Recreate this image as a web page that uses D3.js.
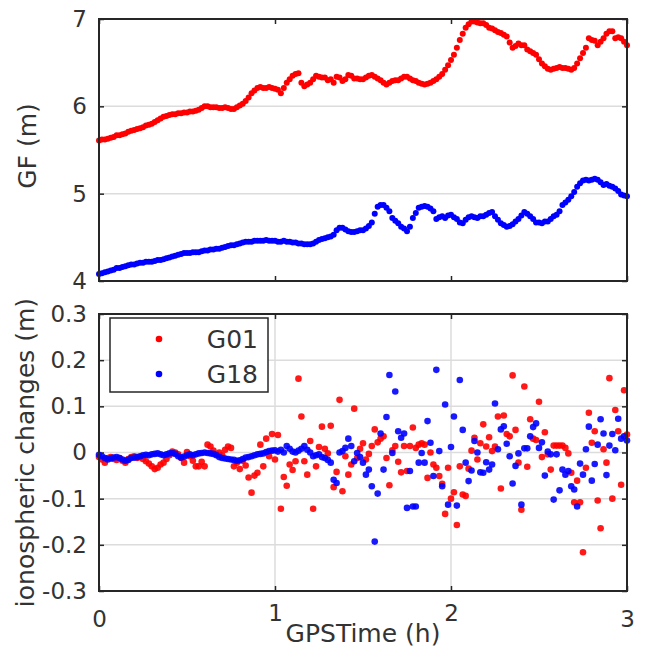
<!DOCTYPE html>
<html>
<head>
<meta charset="utf-8">
<script src="https://cdn.jsdelivr.net/npm/d3@7"></script>
<style>
  html, body { margin: 0; padding: 0; background: #fff; }
  svg { display: block; }
</style>
</head>
<body>
<script>
// sampling: one epoch per minute, 0..3 h
const stepHours = 1 / 60;
const hourTicks = [0, 1, 2, 3];
const gfTicks = [4, 5, 6, 7];
const ionoTicks = [-0.3, -0.2, -0.1, 0, 0.1, 0.2, 0.3];
const satNames = ["G01", "G18"];

// GF combination (m)
const gfG01 = [
  5.61, 5.62, 5.62, 5.63, 5.64, 5.65, 5.67, 5.67, 5.68, 5.69,
  5.71, 5.72, 5.73, 5.74, 5.75, 5.76, 5.78, 5.79, 5.80, 5.82,
  5.84, 5.86, 5.88, 5.89, 5.90, 5.91, 5.91, 5.92, 5.92, 5.93,
  5.93, 5.94, 5.94, 5.95, 5.96, 5.98, 6.00, 6.00, 5.99, 5.99,
  5.99, 5.98, 5.98, 5.99, 5.98, 5.97, 5.97, 5.99, 6.01, 6.03,
  6.06, 6.10, 6.15, 6.18, 6.21, 6.22, 6.21, 6.21, 6.22, 6.21,
  6.20, 6.19, 6.15, 6.21, 6.27, 6.31, 6.35, 6.37, 6.38, 6.27,
  6.23, 6.25, 6.27, 6.31, 6.35, 6.34, 6.33, 6.33, 6.30, 6.31,
  6.27, 6.34, 6.33, 6.29, 6.31, 6.36, 6.35, 6.32, 6.32, 6.31,
  6.31, 6.33, 6.35, 6.36, 6.34, 6.32, 6.30, 6.27, 6.25, 6.27,
  6.29, 6.30, 6.30, 6.32, 6.34, 6.34, 6.32, 6.30, 6.29, 6.27,
  6.26, 6.25, 6.26, 6.27, 6.29, 6.31, 6.34, 6.37, 6.42, 6.47,
  6.53, 6.59, 6.67, 6.76, 6.83, 6.90, 6.94, 6.97, 6.97, 6.96,
  6.95, 6.95, 6.93, 6.90, 6.89, 6.87, 6.85, 6.84, 6.82, 6.80,
  6.73, 6.67, 6.69, 6.72, 6.70, 6.70, 6.65, 6.63, 6.61, 6.59,
  6.54, 6.49, 6.46, 6.43, 6.42, 6.43, 6.44, 6.45, 6.44, 6.44,
  6.43, 6.42, 6.44, 6.49, 6.55, 6.61, 6.67, 6.78, 6.76, 6.75,
  6.70, 6.74, 6.78, 6.83, 6.86, 6.86, 6.78, 6.79, 6.78, 6.74,
  6.70
];
const gfG18 = [
  4.08, 4.09, 4.10, 4.11, 4.12, 4.13, 4.15, 4.15, 4.16, 4.17,
  4.18, 4.19, 4.19, 4.20, 4.21, 4.21, 4.22, 4.22, 4.22, 4.23,
  4.24, 4.24, 4.25, 4.26, 4.27, 4.28, 4.29, 4.30, 4.31, 4.32,
  4.32, 4.32, 4.33, 4.33, 4.33, 4.34, 4.35, 4.35, 4.36, 4.36,
  4.37, 4.37, 4.38, 4.39, 4.40, 4.41, 4.41, 4.42, 4.43, 4.44,
  4.45, 4.45, 4.45, 4.46, 4.46, 4.46, 4.46, 4.47, 4.46, 4.46,
  4.46, 4.45, 4.45, 4.46, 4.45, 4.45, 4.44, 4.44, 4.43, 4.43,
  4.42, 4.42, 4.42, 4.43, 4.45, 4.47, 4.48, 4.49, 4.50, 4.51,
  4.53, 4.58, 4.61, 4.61, 4.59, 4.57, 4.56, 4.56, 4.57, 4.58,
  4.58, 4.60, 4.63, 4.67, 4.77, 4.85, 4.87, 4.87, 4.84, 4.80,
  4.72, 4.69, 4.66, 4.62, 4.60, 4.57, 4.62, 4.72, 4.78, 4.84,
  4.85, 4.86, 4.85, 4.83, 4.80, 4.71, 4.73, 4.74, 4.72, 4.75,
  4.76, 4.73, 4.71, 4.67, 4.66, 4.70, 4.73, 4.74, 4.73, 4.72,
  4.74, 4.74, 4.76, 4.78, 4.79, 4.74, 4.70, 4.66, 4.64, 4.62,
  4.63, 4.65, 4.68, 4.71, 4.75, 4.79, 4.77, 4.74, 4.71, 4.67,
  4.67, 4.66, 4.68, 4.68, 4.71, 4.74, 4.76, 4.80, 4.87, 4.90,
  4.93, 4.97, 5.02, 5.08, 5.12, 5.15, 5.16, 5.15, 5.16, 5.17,
  5.16, 5.13, 5.10, 5.11, 5.09, 5.08, 5.06, 5.03, 4.99, 4.98,
  4.97
];

// epoch-to-epoch ionospheric changes (m)
const ionoG01 = [
  -0.010, -0.015, -0.022, -0.012, -0.010, -0.014, -0.016, -0.012, -0.018, -0.022,
  -0.014, -0.010, -0.008, -0.012, -0.010, -0.014, -0.019, -0.024, -0.030, -0.036,
  -0.033, -0.026, -0.022, -0.014, -0.006, 0.002, 0.000, -0.004, -0.012, -0.022,
  0.001, -0.008, -0.018, -0.030, -0.030, -0.020, -0.030, 0.017, 0.013, 0.004,
  -0.004, 0.000, -0.006, 0.006, 0.013, 0.010, -0.030, -0.022, -0.036, -0.018,
  -0.028, -0.054, -0.087, -0.050, -0.044, 0.017, -0.030, 0.030, -0.008, 0.040,
  -0.015, 0.038, -0.122, -0.053, -0.072, -0.026, -0.038, -0.019, 0.160, 0.078,
  -0.019, -0.048, 0.025, -0.122, -0.030, 0.012, 0.056, 0.008, -0.002, 0.058,
  -0.075, -0.042, 0.114, -0.084, -0.008, -0.048, -0.026, 0.095, -0.012, 0.008,
  0.020, -0.015, -0.003, 0.014, 0.050, 0.022, 0.030, 0.035, -0.012, -0.071,
  0.005, 0.014, -0.020, -0.043, 0.014, -0.040, 0.014, 0.054, 0.010, 0.017,
  0.020, 0.017, -0.055, 0.000, -0.026, -0.033, -0.051, -0.068, -0.133, -0.033,
  -0.100, -0.086, -0.157, -0.030, -0.091, -0.094, -0.035, 0.004, 0.032, -0.015,
  0.020, 0.061, 0.013, 0.033, 0.003, 0.013, 0.078, -0.078, 0.080, 0.040,
  0.035, 0.167, 0.049, -0.022, -0.124, 0.143, -0.031, 0.072, 0.030, 0.027,
  0.110, -0.010, 0.044, -0.004, -0.037, 0.015, 0.015, 0.015, 0.015, 0.010,
  -0.002, -0.044, -0.108, -0.061, -0.108, -0.216, -0.033, 0.086, 0.021, 0.046,
  -0.104, -0.164, 0.007, -0.022, 0.161, -0.100, 0.092, 0.046, -0.070, 0.135,
  0.039
];
const ionoG18 = [
  -0.005, -0.008, -0.012, -0.015, -0.013, -0.011, -0.010, -0.012, -0.015, -0.018,
  -0.016, -0.012, -0.011, -0.010, -0.008, -0.006, -0.005, -0.006, -0.004, -0.003,
  -0.002, -0.004, -0.006, -0.004, -0.002, -0.001, -0.003, -0.008, -0.011, -0.009,
  -0.006, -0.004, -0.006, -0.004, -0.002, -0.001, 0.000, -0.001, -0.002, -0.003,
  -0.006, -0.010, -0.012, -0.013, -0.014, -0.015, -0.016, -0.018, -0.017, -0.014,
  -0.011, -0.010, -0.008, -0.006, -0.004, -0.003, -0.002, 0.001, 0.003, 0.004,
  0.005, 0.002, 0.006, 0.000, 0.014, 0.008, 0.002, 0.000, 0.004, 0.008,
  0.014, 0.006, 0.000, -0.008, -0.006, -0.004, -0.010, -0.012, -0.016, -0.022,
  -0.059, -0.066, 0.000, 0.003, 0.010, 0.030, 0.014, -0.019, -0.001, -0.010,
  -0.022, -0.048, -0.037, -0.073, -0.193, -0.089, 0.041, -0.037, 0.077, 0.168,
  -0.001, 0.132, 0.046, 0.032, 0.041, -0.120, -0.040, -0.117, -0.117, -0.022,
  -0.001, -0.022, 0.068, 0.021, -0.051, 0.179, 0.003, -0.073, 0.104, -0.113,
  0.012, 0.078, -0.115, 0.157, 0.049, -0.022, -0.062, -0.039, 0.025, 0.000,
  -0.043, -0.044, -0.021, -0.037, -0.026, 0.106, 0.007, 0.050, 0.057, 0.019,
  -0.008, -0.067, -0.029, -0.002, -0.113, 0.009, 0.009, 0.035, 0.055, 0.063,
  0.010, 0.022, -0.050, 0.002, -0.004, -0.102, -0.004, -0.082, -0.037, -0.048,
  -0.040, -0.073, -0.080, -0.117, -0.024, -0.048, 0.007, 0.056, -0.061, -0.025,
  0.017, 0.072, 0.041, -0.049, 0.015, 0.040, 0.005, 0.073, 0.030, 0.035,
  0.026
];

const svgWidth = 646;
const svgHeight = 653;
const textColor = "#333";
const font = "'DejaVu Sans', sans-serif";
const red = "#ff0000";
const blue = "#0000ff";

const svg = d3.select("body").append("svg")
  .attr("width", svgWidth)
  .attr("height", svgHeight);

const x = d3.scaleLinear().domain([0, 3]).range([99, 627]);
const yTop = d3.scaleLinear().domain([4, 7]).range([281, 19]);
const yBot = d3.scaleLinear().domain([-0.3, 0.3]).range([591, 314]);

function toPoints(values) {
  return values.map((v, i) => ({ t: i * stepHours, v: v }));
}

function drawPanel(y, yTicks, vGrid, fmtY, showX) {
  const g = svg.append("g");
  const [y0, y1] = y.range();
  const [x0, x1] = x.range();

  // grid
  g.selectAll(".hgrid")
    .data(yTicks.slice(1, -1))
    .enter().append("line")
    .attr("x1", x0).attr("x2", x1)
    .attr("y1", (d) => y(d)).attr("y2", (d) => y(d))
    .attr("stroke", "#dcdcdc").attr("stroke-width", 1.5);
  if (vGrid) {
    g.selectAll(".vgrid")
      .data(hourTicks.slice(1, -1))
      .enter().append("line")
      .attr("x1", (d) => x(d)).attr("x2", (d) => x(d))
      .attr("y1", y1).attr("y2", y0)
      .attr("stroke", "#dcdcdc").attr("stroke-width", 1.5);
  }

  // inner ticks and labels
  const leftAx = g.append("g")
    .attr("transform", "translate(" + x0 + ",0)")
    .call(d3.axisLeft(y).tickValues(yTicks).tickSize(-5).tickPadding(12).tickFormat(fmtY));
  const rightAx = g.append("g")
    .attr("transform", "translate(" + x1 + ",0)")
    .call(d3.axisRight(y).tickValues(yTicks).tickSize(-5).tickFormat(""));
  const bottomAx = g.append("g")
    .attr("transform", "translate(0," + y0 + ")")
    .call(d3.axisBottom(x).tickValues(hourTicks).tickSize(-5).tickPadding(20)
      .tickFormat(showX ? (d) => String(d) : ""));
  const topAx = g.append("g")
    .attr("transform", "translate(0," + y1 + ")")
    .call(d3.axisTop(x).tickValues(hourTicks).tickSize(-5).tickFormat(""));

  [leftAx, rightAx, bottomAx, topAx].forEach((a) => {
    a.select(".domain").remove();
    a.selectAll("line").attr("stroke", "#262626").attr("stroke-width", 1.5);
    a.selectAll("text")
      .attr("fill", textColor)
      .style("font-family", font)
      .style("font-size", "23px");
  });

  // the inner hour labels sit a little higher in the original
  bottomAx.selectAll(".tick text")
    .attr("dy", (d) => (d === 1 || d === 2 ? "0.45em" : "0.71em"));

  return g;
}

const fmtGF = (d) => String(d);
const fmtIono = (d) => (d === 0 ? "0" : String(d));

drawPanel(yTop, gfTicks, false, fmtGF, false);
drawPanel(yBot, ionoTicks, true, fmtIono, true);

// GF dots
const plotTop = svg.append("g");
[[gfG01, red], [gfG18, blue]].forEach(([vals, col]) => {
  plotTop.selectAll(null)
    .data(toPoints(vals))
    .enter().append("circle")
    .attr("cx", (d) => x(d.t))
    .attr("cy", (d) => yTop(d.v))
    .attr("r", 3)
    .attr("fill", col);
});

// iono dots
const plotBot = svg.append("g");
[[ionoG01, red], [ionoG18, blue]].forEach(([vals, col]) => {
  plotBot.selectAll(null)
    .data(toPoints(vals))
    .enter().append("circle")
    .attr("cx", (d) => x(d.t))
    .attr("cy", (d) => yBot(d.v))
    .attr("r", 3.3)
    .attr("fill", col)
    .attr("opacity", 0.9);
});

// frames
[yTop, yBot].forEach((y) => {
  svg.append("rect")
    .attr("x", x.range()[0]).attr("y", y.range()[1])
    .attr("width", x.range()[1] - x.range()[0])
    .attr("height", y.range()[0] - y.range()[1])
    .attr("fill", "none")
    .attr("stroke", "#262626")
    .attr("stroke-width", 2);
});

// axis labels
svg.append("text")
  .attr("transform", "translate(36," + (yTop(5.5) - 4) + ") rotate(-90)")
  .attr("text-anchor", "middle")
  .attr("fill", textColor)
  .style("font-family", font)
  .style("font-size", "25px")
  .text("GF (m)");

svg.append("text")
  .attr("transform", "translate(34," + yBot(0) + ") rotate(-90)")
  .attr("text-anchor", "middle")
  .attr("fill", textColor)
  .style("font-family", font)
  .style("font-size", "25px")
  .text("ionospheric changes (m)");

svg.append("text")
  .attr("x", (x(0) + x(3)) / 2)
  .attr("y", 642)
  .attr("text-anchor", "middle")
  .attr("fill", textColor)
  .style("font-family", font)
  .style("font-size", "25px")
  .text("GPSTime (h)");

// legend
const legend = svg.append("g");
legend.append("rect")
  .attr("x", 110).attr("y", 318)
  .attr("width", 158).attr("height", 74)
  .attr("fill", "#fff")
  .attr("stroke", "#262626")
  .attr("stroke-width", 1.5);
satNames.forEach((name, i) => {
  const cy = 339 + i * 35;
  legend.append("circle")
    .attr("cx", 159).attr("cy", cy).attr("r", 3.3)
    .attr("fill", i === 0 ? red : blue);
  legend.append("text")
    .attr("x", 258).attr("y", cy + 9)
    .attr("text-anchor", "end")
    .attr("fill", textColor)
    .style("font-family", font)
    .style("font-size", "25px")
    .text(name);
});
</script>
</body>
</html>
